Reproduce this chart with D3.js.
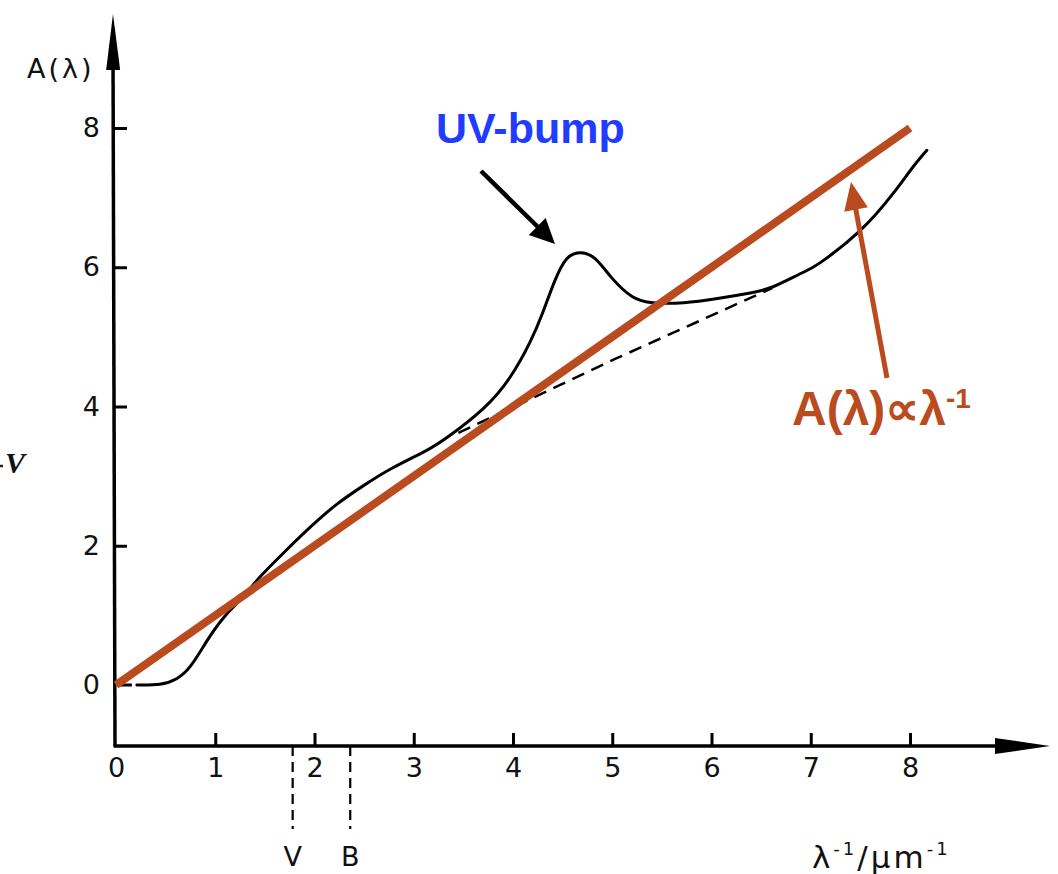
<!DOCTYPE html>
<html>
<head>
<meta charset="utf-8">
<script src="https://cdn.jsdelivr.net/npm/d3@7"></script>
<style>
  body { margin: 0; background: #fff; }
  svg { display: block; }
  .axis text { font-family: 'DejaVu Sans', sans-serif; font-size: 27px; fill: #111; }
</style>
</head>
<body>
<div id="root"></div>
<script>
// ---- data ----
const xTicks = [0, 1, 2, 3, 4, 5, 6, 7, 8]
const yTicks = [0, 2, 4, 6, 8]

// extinction curve A(lambda) vs 1/lambda
const curveX = [0.21, 0.44, 0.61, 0.75, 0.91, 1.08, 1.28, 1.45, 1.69, 1.96, 2.22, 2.49, 2.79, 3.13, 3.37, 3.70, 3.97, 4.17, 4.30, 4.42, 4.54, 4.68, 4.83, 5.00, 5.20, 5.41, 5.72, 6.06, 6.39, 6.62, 6.90, 7.10, 7.50, 7.83, 8.03, 8.17]
const curveY = [0.00, 0.01, 0.09, 0.27, 0.62, 0.96, 1.27, 1.55, 1.90, 2.27, 2.59, 2.86, 3.12, 3.37, 3.59, 3.97, 4.42, 4.92, 5.35, 5.80, 6.12, 6.21, 6.12, 5.84, 5.58, 5.49, 5.49, 5.55, 5.63, 5.72, 5.91, 6.07, 6.53, 7.06, 7.44, 7.68]

// dashed start of the curve near the origin
const leadX = [0.02, 0.16]
const leadY = [0, 0]

// dashed continuum under the bump
const contX = [3.45, 5.04, 6.61]
const contY = [3.62, 4.69, 5.70]

// A(lambda) proportional to 1/lambda
const powX = [0, 8]
const powY = [0, 8]

// photometric bands
const bandNames = ['V', 'B']
const bandX = [1.78, 2.36]

const ORANGE = '#b94b1f'
const BLUE = '#1f3cff'

const width = 1058
const height = 874

const svg = d3.select('#root').append('svg')
  .attr('width', width)
  .attr('height', height)

const xScale = d3.scaleLinear().domain([0, 8]).range([116, 910])
const yScale = d3.scaleLinear().domain([0, 8]).range([685, 128])
const axisY = 746
const axisX = 115

function head (g, tip, from, len, halfW, color) {
  const dx = tip[0] - from[0]
  const dy = tip[1] - from[1]
  const d = Math.hypot(dx, dy)
  const ux = dx / d
  const uy = dy / d
  const bx = tip[0] - ux * len
  const by = tip[1] - uy * len
  g.append('path')
    .attr('d', `M${tip[0]},${tip[1]}L${bx - uy * halfW},${by + ux * halfW}L${bx + uy * halfW},${by - ux * halfW}Z`)
    .attr('fill', color)
}

// axes lines + arrows
svg.append('line')
  .attr('x1', axisX - 1.5).attr('y1', axisY)
  .attr('x2', 1010).attr('y2', axisY)
  .attr('stroke', '#000').attr('stroke-width', 3.5)
svg.append('line')
  .attr('x1', axisX).attr('y1', axisY)
  .attr('x2', axisX - 2).attr('y2', 50)
  .attr('stroke', '#000').attr('stroke-width', 3.5)
head(svg, [1050, axisY], [axisX, axisY], 55, 8, '#000')
head(svg, [113, 14], [axisX, axisY], 56, 7, '#000')

// x axis ticks (pointing up) and labels
const xAxis = svg.append('g')
  .attr('class', 'axis')
  .attr('transform', `translate(0, ${axisY})`)
  .call(d3.axisBottom(xScale).tickValues(xTicks).tickSizeInner(-13).tickSizeOuter(0).tickPadding(12).tickFormat(d3.format('d')))
xAxis.select('.domain').remove()
xAxis.selectAll('.tick line').attr('stroke', '#000').attr('stroke-width', 3)
xAxis.selectAll('.tick').filter(d => d === 0).select('line').remove()

// y axis ticks (pointing right) and labels
const yAxis = svg.append('g')
  .attr('class', 'axis')
  .attr('transform', `translate(${axisX - 1}, 0)`)
  .call(d3.axisLeft(yScale).tickValues(yTicks).tickSizeInner(-13).tickSizeOuter(0).tickPadding(14).tickFormat(d3.format('d')))
yAxis.select('.domain').remove()
yAxis.selectAll('.tick line').attr('stroke', '#000').attr('stroke-width', 3)
yAxis.selectAll('.tick').filter(d => d === 0).select('line').remove()

// axis titles
svg.append('text')
  .attr('x', 27).attr('y', 78)
  .style('font-family', "'DejaVu Sans', sans-serif")
  .style('font-size', '27px')
  .style('letter-spacing', '3px')
  .attr('fill', '#111')
  .text('A(λ)')

const xt = svg.append('text')
  .attr('x', 812).attr('y', 868)
  .style('font-family', "'DejaVu Sans', sans-serif")
  .style('font-size', '31px')
  .style('letter-spacing', '3px')
  .attr('fill', '#111')
xt.append('tspan').text('λ')
xt.append('tspan').attr('dy', -13).style('font-size', '18px').text('-1')
xt.append('tspan').attr('dy', 13).text('/µm')
xt.append('tspan').attr('dy', -13).style('font-size', '18px').text('-1')

// cropped "-V" at the left edge
svg.append('text')
  .attr('x', 5).attr('y', 473)
  .style('font-family', "'Liberation Serif', serif")
  .style('font-style', 'italic')
  .style('font-weight', 'bold')
  .style('font-size', '30px')
  .attr('fill', '#111')
  .text('V')
svg.append('line')
  .attr('x1', 0).attr('x2', 3)
  .attr('y1', 466).attr('y2', 466)
  .attr('stroke', '#222').attr('stroke-width', 2.5)

// V and B band markers
const bands = svg.append('g').selectAll('g')
  .data(bandNames.map((n, i) => ({ name: n, x: bandX[i] })))
  .join('g')
bands.append('line')
  .attr('x1', d => xScale(d.x)).attr('x2', d => xScale(d.x))
  .attr('y1', axisY).attr('y2', 829)
  .attr('stroke', '#000').attr('stroke-width', 2.2)
  .attr('stroke-dasharray', '10,6')
bands.append('text')
  .attr('x', d => xScale(d.x)).attr('y', 866)
  .attr('text-anchor', 'middle')
  .style('font-family', "'DejaVu Sans', sans-serif")
  .style('font-size', '27px')
  .attr('fill', '#111')
  .text(d => d.name)

// curves
const line = d3.line().x(d => xScale(d[0])).y(d => yScale(d[1]))
const smooth = d3.line().x(d => xScale(d[0])).y(d => yScale(d[1])).curve(d3.curveNatural)

svg.append('path')
  .datum(contX.map((x, i) => [x, contY[i]]))
  .attr('d', line)
  .attr('fill', 'none')
  .attr('stroke', '#000').attr('stroke-width', 2.5)
  .attr('stroke-dasharray', '13,8')

svg.append('path')
  .datum(leadX.map((x, i) => [x, leadY[i]]))
  .attr('d', line)
  .attr('fill', 'none')
  .attr('stroke', '#000').attr('stroke-width', 3)

svg.append('path')
  .datum(curveX.map((x, i) => [x, curveY[i]]))
  .attr('d', smooth)
  .attr('fill', 'none')
  .attr('stroke', '#000').attr('stroke-width', 3)
  .attr('stroke-linecap', 'round')

svg.append('path')
  .datum(powX.map((x, i) => [x, powY[i]]))
  .attr('d', line)
  .attr('fill', 'none')
  .attr('stroke', ORANGE).attr('stroke-width', 8)

// annotations
svg.append('text')
  .attr('x', 436).attr('y', 143)
  .style('font-family', "'Liberation Sans', Arial, sans-serif")
  .style('font-weight', 'bold')
  .style('font-size', '43px')
  .attr('fill', BLUE)
  .text('UV-bump')

svg.append('line')
  .attr('x1', 481).attr('y1', 171)
  .attr('x2', 542).attr('y2', 231)
  .attr('stroke', '#000').attr('stroke-width', 4.5)
head(svg, [555, 244], [481, 171], 25, 12, '#000')

const lab = svg.append('text')
  .attr('x', 792).attr('y', 425)
  .style('font-family', "'Liberation Sans', Arial, sans-serif")
  .style('font-weight', 'bold')
  .style('font-size', '48px')
  .attr('fill', ORANGE)
lab.append('tspan').text('A(λ)∝λ')
lab.append('tspan').attr('dy', -17).style('font-size', '28px').text('-1')

svg.append('line')
  .attr('x1', 887).attr('y1', 378)
  .attr('x2', 855).attr('y2', 205)
  .attr('stroke', ORANGE).attr('stroke-width', 5)
head(svg, [851, 182], [887, 378], 28, 12, ORANGE)
</script>
</body>
</html>
